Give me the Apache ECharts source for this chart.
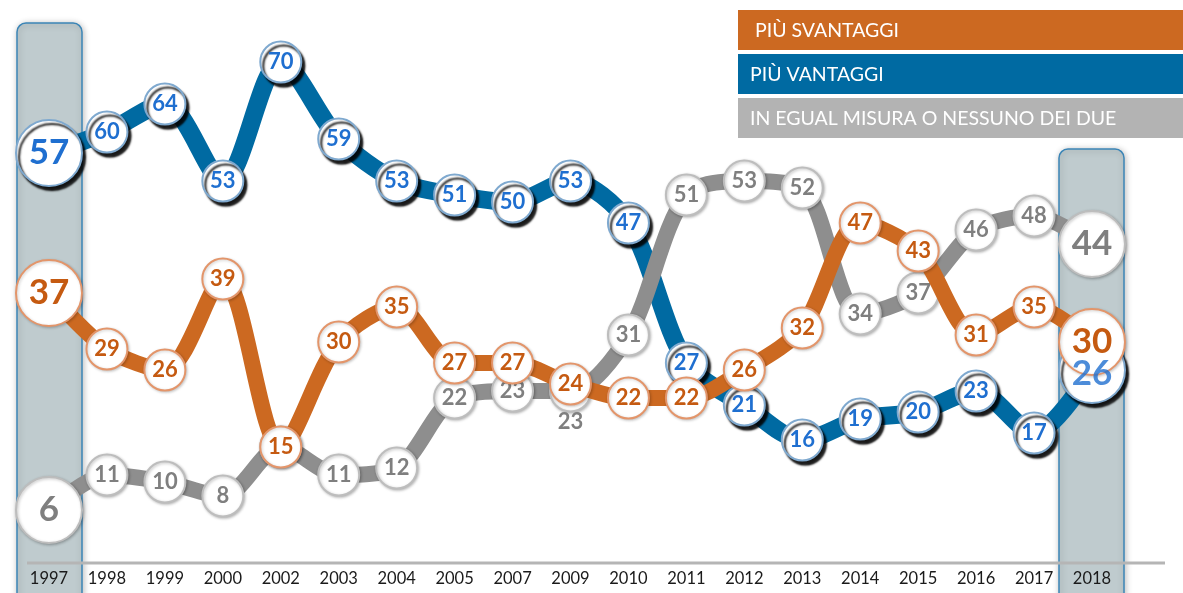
<!DOCTYPE html>
<html>
<head>
<meta charset="utf-8">
<script src="https://cdn.jsdelivr.net/npm/echarts@6/dist/echarts.min.js"></script>
<style>
  html, body { margin: 0; padding: 0; background: #ffffff; }
  #chart { width: 1183px; height: 593px; }
</style>
</head>
<body>
<div id="chart"></div>
<script>
// Survey years (category axis)
const years = ['1997', '1998', '1999', '2000', '2002', '2003', '2004', '2005', '2007', '2009',
               '2010', '2011', '2012', '2013', '2014', '2015', '2016', '2017', '2018'];

// Answers, in percent
const vantaggi  = [57, 60, 64, 53, 70, 59, 53, 51, 50, 53, 47, 27, 21, 16, 19, 20, 23, 17, 26];
const svantaggi = [37, 29, 26, 39, 15, 30, 35, 27, 27, 24, 22, 22, 26, 32, 47, 43, 31, 35, 30];
const egual     = [ 6, 11, 10,  8, 15, 11, 12, 22, 23, 23, 31, 51, 53, 52, 34, 37, 46, 48, 44];

const legendLabels = ['PIÙ SVANTAGGI', 'PIÙ VANTAGGI', 'IN EGUAL MISURA O NESSUNO DEI DUE'];

const COL = {
  orange: '#cc6921', orangeText: '#c55a11', orangeBorder: '#e3956a',
  blue: '#006aa2', blueText: '#1f6fd0', blueBorder: '#7fa9cf',
  gray: '#8e8e8e', grayText: '#7f7f7f', grayBorder: '#bdbdbd', grayLegend: '#b3b3b3'
};
const FONT = 'Lato, "Open Sans", sans-serif';
const last = years.length - 1;

// Point styling: first and last years are emphasised with bigger bubbles
function points(values, opts) {
  return values.map((v, i) => {
    const big = i === 0 || i === last;
    const item = {
      value: v,
      symbolSize: big ? 66 : 41,
      label: { fontSize: big ? 35 : 22 }
    };
    if (opts.hide && opts.hide.includes(i)) item.label.show = false;
    if (opts.below && opts.below.includes(i)) {
      item.label.offset = [0, 31];
    }
    return item;
  });
}

function lineSeries(name, values, color, border, textColor, z, width, shadow, opts) {
  return {
    name, type: 'line', z,
    data: points(values, opts || {}),
    smooth: 0.3,
    symbol: 'circle',
    lineStyle: { color, width },
    itemStyle: {
      color: '#ffffff', borderColor: border, borderWidth: 2,
      shadowColor: shadow.color, shadowBlur: shadow.blur,
      shadowOffsetX: shadow.x, shadowOffsetY: shadow.y
    },
    label: {
      show: true, position: 'inside', color: textColor,
      fontFamily: FONT, fontWeight: 'bold'
    },
    emphasis: { disabled: true },
    animation: false
  };
}

const chart = echarts.init(document.getElementById('chart'), null, { renderer: 'canvas' });

chart.setOption({
  backgroundColor: '#ffffff',
  animation: false,
  grid: { left: 49, right: 91, top: 6, bottom: 41 },
  xAxis: {
    type: 'category', data: years, boundaryGap: false, offset: 11,
    axisLine: { show: false }, axisTick: { show: false },
    axisLabel: { color: '#1a1a1a', fontFamily: FONT, fontSize: 16.5, margin: 7 },
    splitLine: { show: false }
  },
  yAxis: { type: 'value', min: 0, max: 78, show: false, splitLine: { show: false } },
  series: [
    lineSeries('PIÙ VANTAGGI', vantaggi, COL.blue, COL.blueBorder, COL.blueText, 3, 18,
      { color: 'rgba(0,0,0,0.9)', blur: 2, x: 3, y: 4 }, { hide: [last] }),
    lineSeries('IN EGUAL MISURA O NESSUNO DEI DUE', egual, COL.gray, COL.grayBorder, COL.grayText, 4, 16,
      { color: 'rgba(0,0,0,0.25)', blur: 3, x: 1, y: 1 }, { hide: [4], below: [9] }),
    lineSeries('PIÙ SVANTAGGI', svantaggi, COL.orange, COL.orangeBorder, COL.orangeText, 5, 16,
      { color: 'rgba(0,0,0,0.2)', blur: 3, x: 1, y: 1 }, {}),
    // last "vantaggi" value, written above the overlapping bubbles
    {
      type: 'scatter', z: 6, symbol: 'circle', symbolSize: 1,
      itemStyle: { color: 'rgba(0,0,0,0)' },
      data: vantaggi.map((v, i) => (i === last ? [i, v] : null)).filter(Boolean),
      label: {
        show: true, position: 'inside', formatter: p => p.value[1],
        color: COL.blueText, fontFamily: FONT, fontWeight: 'bold', fontSize: 35, offset: [0, 4]
      },
      emphasis: { disabled: true }, silent: true
    }
  ]
});

// Highlight columns for the first and last survey, axis rule and legend
const x0 = chart.convertToPixel({ xAxisIndex: 0 }, 0);
const xN = chart.convertToPixel({ xAxisIndex: 0 }, last);
const boxStyle = {
  fill: '#bfcbce', stroke: '#3b85b6', lineWidth: 1.5,
  shadowColor: 'rgba(0,0,0,0.25)', shadowBlur: 6, shadowOffsetX: 1, shadowOffsetY: 1
};
const legendColors = [COL.orange, COL.blue, COL.grayLegend];
const legendTop = [10, 54, 98];

chart.setOption({
  graphic: [
    { type: 'rect', z: 0, shape: { x: x0 - 32, y: 23, width: 65, height: 580, r: 9 }, style: boxStyle, silent: true },
    { type: 'rect', z: 0, shape: { x: xN - 33, y: 149, width: 65, height: 454, r: 9 }, style: boxStyle, silent: true },
    { type: 'line', z: 1, shape: { x1: 27, y1: 563, x2: 1165, y2: 563 },
      style: { stroke: '#b5b5b5', lineWidth: 3 }, silent: true }
  ].concat(legendLabels.map((t, i) => ({
    type: 'group', z: 10, x: 738, y: legendTop[i],
    children: [
      { type: 'rect', shape: { x: 0, y: 0, width: 445, height: 40 }, style: { fill: legendColors[i] } },
      { type: 'text', x: i === 0 ? 17 : 12, y: 21,
        style: { text: t, fill: '#ffffff', font: '19.5px ' + FONT, verticalAlign: 'middle' } }
    ]
  })))
});
</script>
</body>
</html>
